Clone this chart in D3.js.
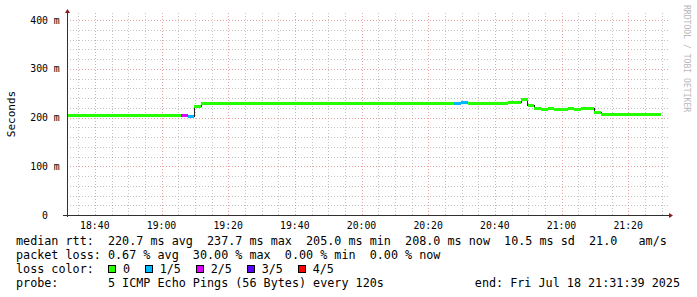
<!DOCTYPE html>
<html>
<head>
<meta charset="utf-8">
<script src="https://cdn.jsdelivr.net/npm/d3@7"></script>
<style>
  body { margin: 0; background: #fff; }
  svg { display: block; }
  text { font-family: "DejaVu Sans Mono", monospace; fill: #000; }
</style>
</head>
<body>
<svg id="chart" width="697" height="297"></svg>
<script>
// median rtt steps (start time of each step), value in ms, loss level (0..4 of 5 pings)
const stepStart = ["18:31:39", "19:05:51", "19:07:51", "19:09:51", "19:11:51", "20:27:51", "20:29:51",
                   "20:31:51", "20:43:51", "20:47:51", "20:49:51", "20:51:51", "20:53:51", "20:55:51",
                   "20:57:51", "21:01:51", "21:03:51", "21:05:51", "21:09:51", "21:11:51"];
const lastSample = "21:29:51";
const medianMs = [205, 205, 204, 223, 229, 230.5, 231.5, 229, 231, 237.7, 225, 219.5, 218, 219.5,
                  218, 219.5, 218, 219.5, 210.5, 208];
const lossLevel = [0, 2, 1, 0, 0, 1, 1, 0, 0, 0, 0, 0, 0, 0, 0, 0, 0, 0, 0, 0];

const graphStart = "18:31:39";
const graphEnd = "21:31:39";
const yTicks = [0, 100, 200, 300, 400];

const lossLabels = ["0", "1/5", "2/5", "3/5", "4/5"];
const lossColors = ["#26ff00", "#00b8ff", "#dd00ff", "#5e00ff", "#ff0000"];

const legendRows = [
    "median rtt:  220.7 ms avg  237.7 ms max  205.0 ms min  208.0 ms now  10.5 ms sd  21.0   am/s",
    "packet loss: 0.67 % avg  30.00 % max  0.00 % min  0.00 % now",
    "loss color:",
    "probe:       5 ICMP Echo Pings (56 Bytes) every 120s"
];
const endText = "end: Fri Jul 18 21:31:39 2025";

const parseT = d3.timeParse("%Y-%m-%d %H:%M:%S");
const toDate = s => parseT("2025-07-18 " + s);

const svg = d3.select("#chart");

const plotLeft = 67, plotRight = 667, plotBottom = 215, plotTop = 13;
let x = d3.scaleTime().domain([toDate(graphStart), toDate(graphEnd)]).range([plotLeft, plotRight]);
let y = d3.scaleLinear().domain([0, 400]).range([plotBottom, 20]);

// grid
let grid = svg.append("g").attr("shape-rendering", "crispEdges");
let minorX = x.ticks(d3.timeMinute.every(5));
minorX.forEach(function (t) {
    let major = t.getMinutes() % 20 == 0;
    let px = Math.round(x(t)) + 0.5;
    grid.append("line").attr("x1", px).attr("x2", px).attr("y1", plotTop).attr("y2", plotBottom)
        .attr("stroke", major ? "rgba(224,100,100,0.6)" : "rgba(170,170,170,0.7)")
        .attr("stroke-dasharray", "1,2");
});
for (let v = 20; v <= 400; v += 20) {
    let major = v % 100 == 0;
    let py = Math.round(y(v)) + 0.5;
    grid.append("line").attr("x1", plotLeft).attr("x2", plotRight + 1).attr("y1", py).attr("y2", py)
        .attr("stroke", major ? "rgba(224,100,100,0.6)" : "rgba(170,170,170,0.7)")
        .attr("stroke-dasharray", "1,2");
}

// median line (black steps), then loss coloured bands on top
let steps = stepStart.map((s, i) => ({ t0: toDate(s), t1: toDate(i + 1 < stepStart.length ? stepStart[i + 1] : lastSample), v: medianMs[i], loss: lossLevel[i] }));
let linePts = steps.map(d => [d.t0, d.v]).concat([[toDate(lastSample), medianMs[medianMs.length - 1]]]);
svg.append("path")
    .attr("d", d3.line().x(d => x(d[0])).y(d => Math.round(y(d[1])) + 0.5).curve(d3.curveStepAfter)(linePts))
    .attr("fill", "none").attr("stroke", "#202020").attr("stroke-width", 1)
    .attr("shape-rendering", "crispEdges");
svg.append("g").attr("shape-rendering", "crispEdges")
    .selectAll("rect").data(steps).join("rect")
    .attr("x", d => x(d.t0))
    .attr("width", d => x(d.t1) - x(d.t0))
    .attr("y", d => Math.round(y(d.v)) - 1)
    .attr("height", 3)
    .attr("fill", d => lossColors[d.loss]);

// axes
let axisColor = "#303030", arrowColor = "#8b1a1a";
svg.append("line").attr("x1", plotLeft + 0.5).attr("x2", plotLeft + 0.5).attr("y1", plotTop).attr("y2", plotBottom + 2)
    .attr("stroke", axisColor).attr("shape-rendering", "crispEdges");
svg.append("line").attr("x1", plotLeft - 4).attr("x2", plotRight + 3).attr("y1", plotBottom + 0.5).attr("y2", plotBottom + 0.5)
    .attr("stroke", axisColor).attr("shape-rendering", "crispEdges");
svg.append("path").attr("d", `M${plotLeft - 2},${plotTop} L${plotLeft + 0.5},${plotTop - 4} L${plotLeft + 3},${plotTop} Z`).attr("fill", arrowColor);
svg.append("path").attr("d", `M${plotRight + 2},${plotBottom - 2} L${plotRight + 6},${plotBottom + 0.5} L${plotRight + 2},${plotBottom + 3} Z`).attr("fill", arrowColor);

// tick labels
svg.append("g").selectAll("text").data(x.ticks(d3.timeMinute.every(20))).join("text")
    .attr("x", d => x(d)).attr("y", 229)
    .attr("text-anchor", "middle").attr("font-size", "9.8px")
    .text(d3.timeFormat("%H:%M"));
svg.append("g").selectAll("text").data(yTicks).join("text")
    .attr("x", 45).attr("y", d => y(d) + 3.5)
    .attr("text-anchor", "middle").attr("font-size", "9.8px")
    .text(d => d == 0 ? "0" : d + " m");

svg.append("text").attr("transform", "translate(15,114) rotate(-90)")
    .attr("text-anchor", "middle").attr("font-size", "11px").text("Seconds");
svg.append("text").attr("transform", "translate(684,5) rotate(90)")
    .attr("font-size", "8.1px").style("fill", "#b8b8b8").text("RRDTOOL / TOBI OETIKER");

// legend
let cw = 7.08, fs = "11.76px";
let rowY = [245, 259, 273, 287];
legendRows.forEach(function (row, i) {
    svg.append("text").attr("x", 16).attr("y", rowY[i]).attr("font-size", fs)
        .attr("xml:space", "preserve").style("white-space", "pre").text(row);
});
svg.append("text").attr("x", 680).attr("y", rowY[3]).attr("font-size", fs)
    .attr("text-anchor", "end").text(endText);

let col = 13;
lossLabels.forEach(function (lab, i) {
    let bx = 16 + col * cw;
    svg.append("rect").attr("x", Math.round(bx) + 0.5).attr("y", 265.5).attr("width", 7).attr("height", 7)
        .attr("fill", lossColors[i]).attr("stroke", "#000").attr("shape-rendering", "crispEdges");
    col += 2.1;
    svg.append("text").attr("x", 16 + col * cw).attr("y", rowY[2]).attr("font-size", fs).text(lab);
    col += lab.length + 2.1;
});
</script>
</body>
</html>
